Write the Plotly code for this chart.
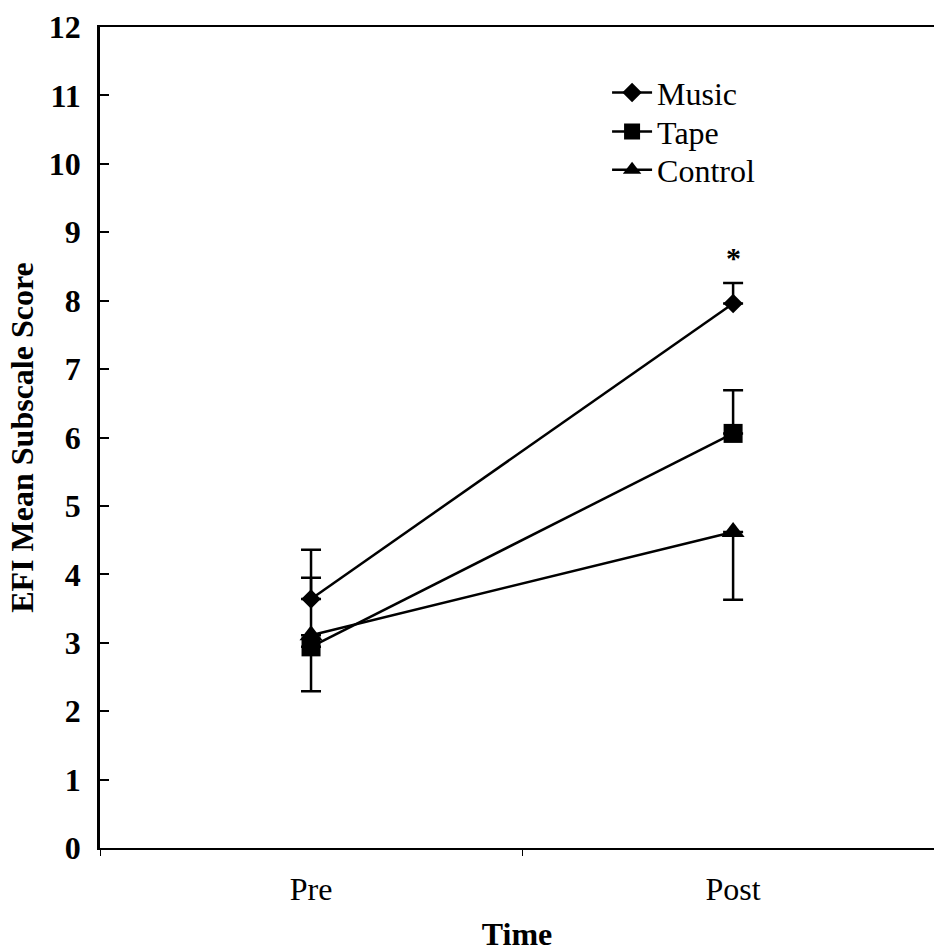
import plotly.graph_objects as go

# Group means at each time point, with one-sided error bars
times = ["Pre", "Post"]
groups = ["Music", "Tape", "Control"]
music = [3.64, 7.96]
tape = [2.94, 6.06]
control = [3.11, 4.62]

music_err_plus = [0.72, 0.30]
music_err_minus = [0.0, 0.0]
tape_err_plus = [0.0, 0.63]
tape_err_minus = [0.65, 0.0]
control_err_plus = [0.84, 0.0]
control_err_minus = [0.0, 0.99]

y_ticks = list(range(0, 13))
significance_mark = "*"

FONT = "Liberation Serif"
LINE_W = 2.5

series = [
    (groups[0], music, music_err_plus, music_err_minus, "diamond", 15, "legend"),
    (groups[1], tape, tape_err_plus, tape_err_minus, "square", 19, "legend2"),
    (groups[2], control, control_err_plus, control_err_minus, "triangle-up", 20, "legend3"),
]

fig = go.Figure()
for name, vals, ep, em, sym, size, leg in series:
    fig.add_trace(go.Scatter(
        x=times, y=vals, name=name, mode="lines+markers", legend=leg,
        line=dict(color="black", width=LINE_W),
        marker=dict(symbol=sym, size=size, color="black"),
        error_y=dict(type="data", symmetric=False, array=ep, arrayminus=em,
                     color="black", thickness=LINE_W, width=10),
    ))

# Significance marker above the Music post-test bar
fig.add_annotation(x=times[1], y=music[1] + music_err_plus[1], text=significance_mark,
                   showarrow=False, yshift=25,
                   font=dict(family=FONT, size=30, color="black", weight="bold"))

legend_style = dict(x=0.608, xanchor="left", yanchor="middle",
                    bgcolor="rgba(0,0,0,0)", font=dict(family=FONT, size=32, color="black"),
                    itemwidth=40)

fig.update_layout(
    width=934, height=952,
    margin=dict(l=100, r=0, t=27, b=104),
    paper_bgcolor="white", plot_bgcolor="white",
    font=dict(family=FONT, color="black"),
    showlegend=True,
    legend=dict(y=0.92, **legend_style),
    legend2=dict(y=0.8725, **legend_style),
    legend3=dict(y=0.826, **legend_style),
)

fig.update_xaxes(
    type="category", range=[-0.5, 1.476],
    showline=True, linecolor="black", linewidth=2, mirror=True,
    showgrid=False, zeroline=False,
    ticks="outside", tickson="boundaries", ticklen=6, tickcolor="black", tickwidth=1,
    tickfont=dict(family=FONT, size=32, color="black"),
    ticklabelstandoff=12,
    title=dict(text="Time", standoff=19,
               font=dict(family=FONT, size=32, color="black", weight="bold")),
)

fig.update_yaxes(
    range=[0, 12], tickvals=y_ticks,
    showline=True, linecolor="black", linewidth=2.5,
    showgrid=False, zeroline=False,
    ticks="inside", ticklen=9, tickcolor="black", tickwidth=1.5,
    tickfont=dict(family=FONT, size=32, color="black", weight="bold"),
    ticklabelstandoff=10,
    title=dict(text="EFI Mean Subscale Score", standoff=6,
               font=dict(family=FONT, size=32, color="black", weight="bold")),
)

fig.write_html("out.html")
